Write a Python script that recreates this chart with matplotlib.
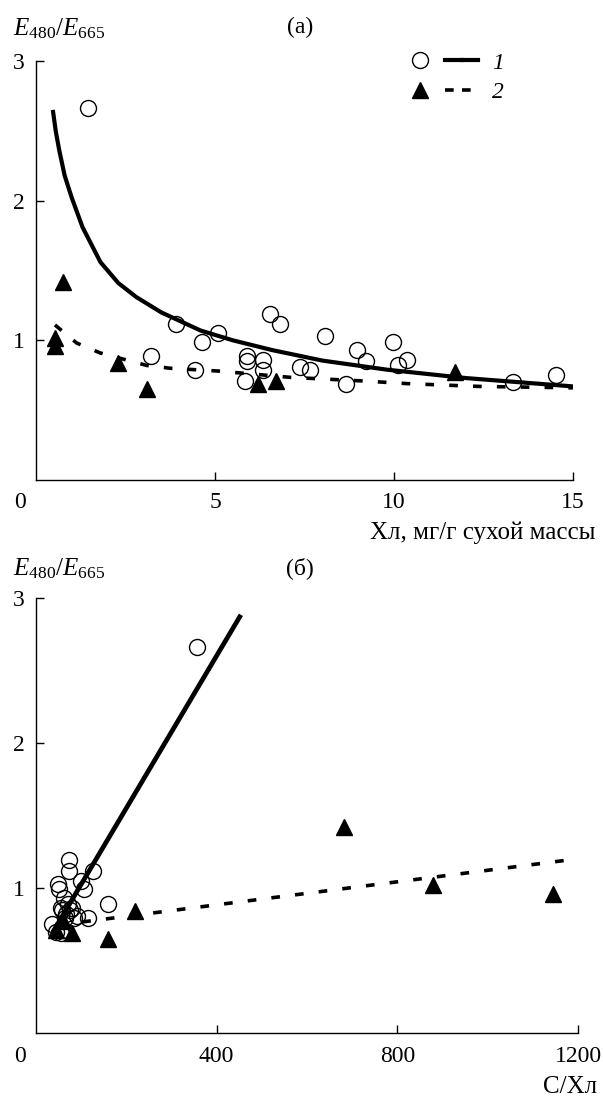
import numpy as np
import matplotlib
matplotlib.use("Agg")
import matplotlib.pyplot as plt
from matplotlib.lines import Line2D
from matplotlib.legend_handler import HandlerTuple

plt.rcParams['font.family'] = ['Liberation Serif', 'DejaVu Serif']
plt.rcParams['mathtext.fontset'] = 'custom'
plt.rcParams['mathtext.rm'] = 'Liberation Serif'
plt.rcParams['mathtext.it'] = 'Liberation Serif:italic'

# series 1 (circles): chlorophyll, C/chl, E480/E665
chl_1 = [1.45, 3.9, 3.2, 4.45, 4.65, 5.07, 5.85, 5.9, 5.9, 6.35, 6.35, 6.53,
         6.81, 7.37, 7.65, 8.06, 8.66, 8.97, 9.21, 9.97, 10.12, 10.37, 13.32, 14.52]
cchl_1 = [357, 126, 159, 116, 107, 100, 60, 75, 70, 65, 80, 74,
          74, 90, 85, 48, 55, 62, 58, 50, 66, 55, 45, 35]
e_1 = [2.66, 1.12, 0.89, 0.79, 0.99, 1.05, 0.71, 0.85, 0.89, 0.79, 0.86, 1.19,
       1.12, 0.81, 0.79, 1.03, 0.69, 0.93, 0.85, 0.99, 0.82, 0.86, 0.70, 0.75]

# series 2 (triangles)
chl_2 = [0.53, 0.53, 0.76, 2.3, 3.1, 6.2, 6.7, 11.7]
cchl_2 = [1144, 880, 683, 220, 160, 79, 44, 60]
e_2 = [0.96, 1.02, 1.42, 0.84, 0.65, 0.69, 0.71, 0.77]

# fitted curves
fit1_x = [0.47, 0.55, 0.65, 0.8, 1.0, 1.3, 1.8, 2.3, 2.8, 3.5, 4.6, 5.5,
          6.6, 8.0, 9.8, 12.0, 15.0]
fit1_y = [2.65, 2.50, 2.36, 2.18, 2.02, 1.81, 1.56, 1.41, 1.31, 1.20, 1.07, 1.00,
          0.93, 0.855, 0.79, 0.73, 0.67]
fit2_x = [0.53, 1.14, 1.79, 3.1, 3.75, 5.1, 7.1, 9.07, 10.37, 12.38, 15.0]
fit2_y = [1.11, 0.98, 0.91, 0.82, 0.80, 0.78, 0.735, 0.71, 0.69, 0.67, 0.66]

lin1_x = [40, 451]
lin1_y = [0.71, 2.87]
lin2_x = [50, 1196]
lin2_y = [0.745, 1.20]

W, H = 603, 1097
fig = plt.figure(figsize=(W / 100, H / 100), dpi=100)
ax1 = fig.add_axes([36 / W, 1 - 480 / H, (573 - 36) / W, (480 - 61) / H])
ax2 = fig.add_axes([36 / W, 1 - 1033 / H, (578 - 36) / W, (1033 - 598) / H])

dash = (0, (2.4, 4.2))
circ = dict(marker='o', ms=11.5, mfc='none', mec='black', mew=1.0, ls='none')
tri = dict(marker='^', ms=12, mfc='black', mec='black', ls='none')

ax1.plot(fit1_x, fit1_y, color='black', lw=3.0, solid_capstyle='butt', solid_joinstyle='round')
ax1.plot(fit2_x, fit2_y, color='black', lw=2.6, linestyle=dash)
ax1.plot(chl_1, e_1, **circ)
ax1.plot(chl_2, e_2, **tri)

ax2.plot(lin1_x, lin1_y, color='black', lw=3.4)
ax2.plot(lin2_x, lin2_y, color='black', lw=2.6, linestyle=dash)
ax2.plot(cchl_1, e_1, **circ)
ax2.plot(cchl_2, e_2, **tri)

ax1.set_xlim(0, 15)
ax1.set_xticks([5, 10, 15])
ax2.set_xlim(0, 1200)
ax2.set_xticks([400, 800, 1200])

for ax in (ax1, ax2):
    ax.set_ylim(0, 3)
    ax.set_yticks([1, 2, 3])
    ax.spines['top'].set_visible(False)
    ax.spines['right'].set_visible(False)
    ax.spines['left'].set_linewidth(1.0)
    ax.spines['bottom'].set_linewidth(1.0)
    ax.tick_params(direction='in', length=6, width=1.0, labelsize=17)
    ax.tick_params(axis='x', pad=9)
    ax.tick_params(axis='y', pad=8)

# legend
blank = Line2D([], [], ls='none')
h1 = (Line2D([], [], **circ), blank, Line2D([], [], color='black', lw=3.0),
      Line2D([], [], color='black', lw=3.0))
h2 = (Line2D([], [], **tri), blank, Line2D([], [], color='black', lw=2.6, linestyle=dash),
      Line2D([], [], color='black', lw=2.6, linestyle=dash))
leg = ax1.legend([h1, h2], ['1', '2'], handler_map={tuple: HandlerTuple(ndivide=None, pad=0)},
                 loc='upper left', bbox_to_anchor=((412 - 36) / 537, (480 - 52) / 419),
                 frameon=False, borderpad=0, borderaxespad=0, handlelength=2.8,
                 handletextpad=0.6, labelspacing=0.35, prop={'size': 17, 'style': 'italic'})

# labels
ylab = r'$\mathit{E}_{480}/\mathit{E}_{665}$'
fig.text(13 / W, 1 - 35 / H, ylab, fontsize=18, ha='left', va='baseline')
fig.text(13 / W, 1 - 575 / H, ylab, fontsize=18, ha='left', va='baseline')
fig.text(300 / W, 1 - 27.5 / H, '(a)', fontsize=17, ha='center', va='center')
fig.text(300 / W, 1 - 568 / H, '(б)', fontsize=17, ha='center', va='center')
fig.text(20 / W, 1 - 503 / H, '0', fontsize=17, ha='center', va='center')
fig.text(20 / W, 1 - 1057 / H, '0', fontsize=17, ha='center', va='center')
fig.text(596 / W, 1 - 539 / H, 'Хл, мг/г сухой массы', fontsize=18, ha='right', va='baseline')
fig.text(597 / W, 1 - 1093 / H, 'С/Хл', fontsize=18, ha='right', va='baseline')

fig.savefig('out.png', dpi=100)
